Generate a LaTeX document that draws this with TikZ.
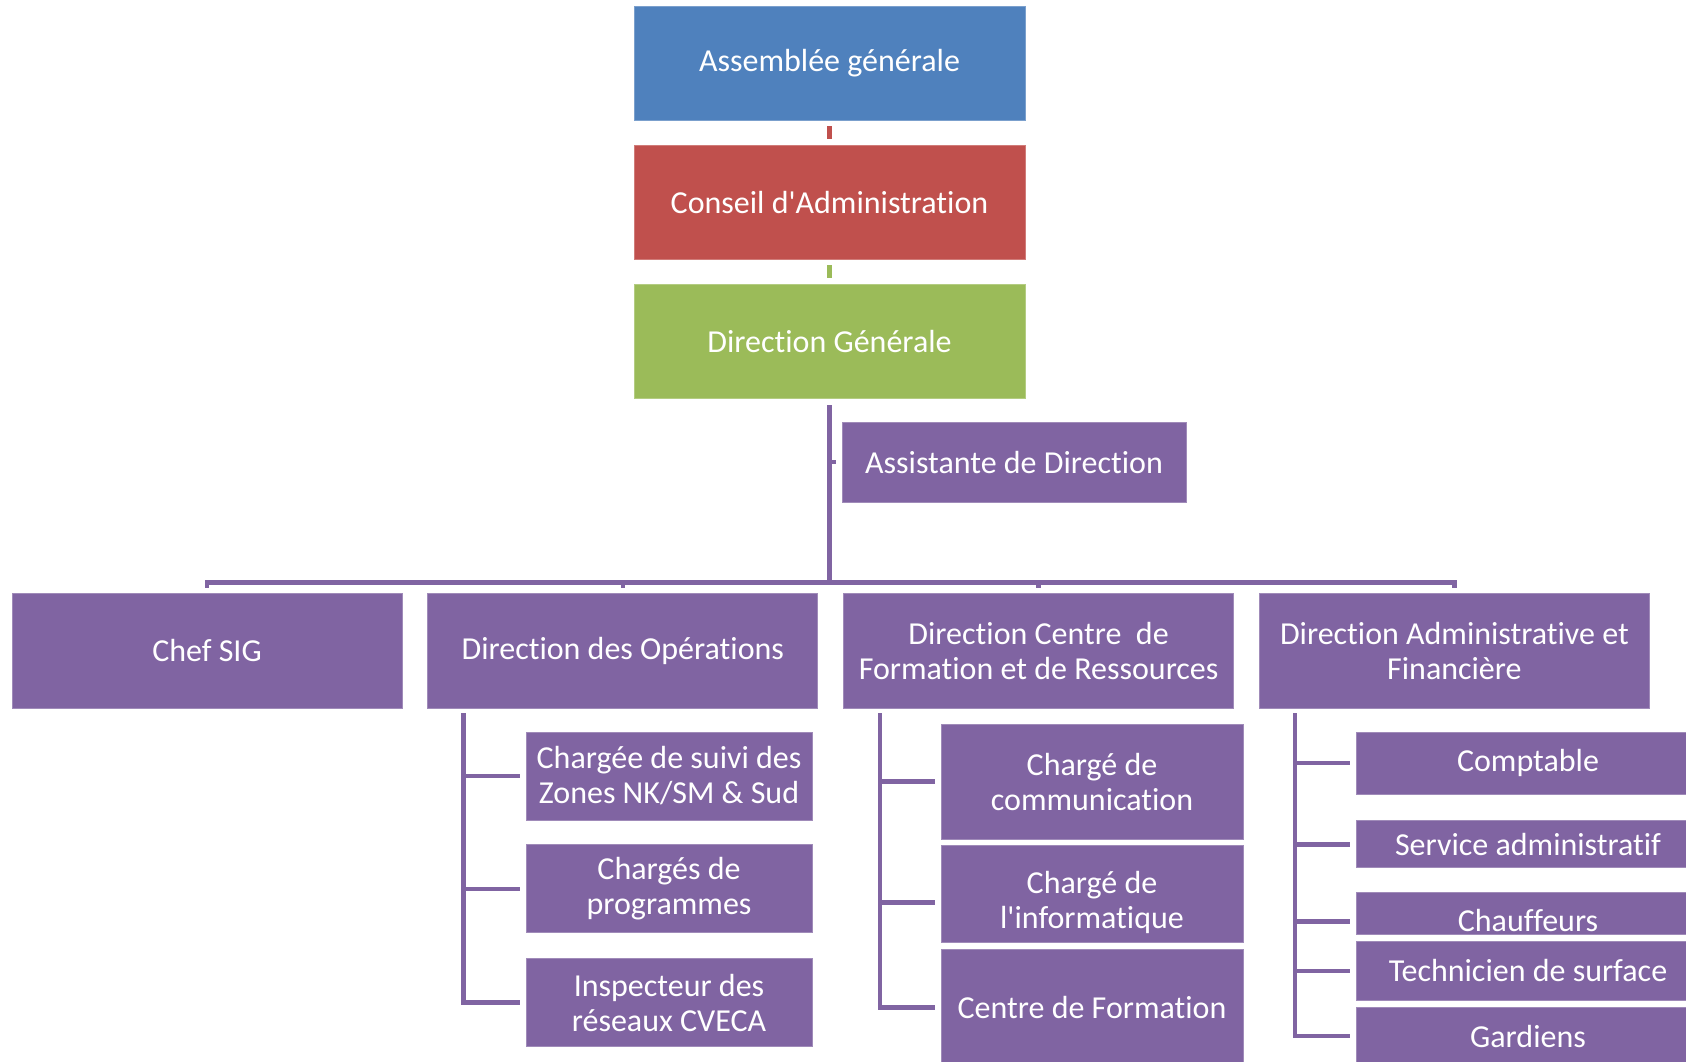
\documentclass[tikz,border=0pt]{standalone}
\usepackage{fontspec}
\setmainfont{Carlito}[Ligatures={NoCommon}]
\usetikzlibrary{positioning}
\definecolor{agblue}{HTML}{4F81BD}
\definecolor{cared}{HTML}{C0504D}
\definecolor{dggreen}{HTML}{9BBB59}
\definecolor{orgpurple}{HTML}{8064A2}
\newcommand{\lowerby}[2]{\raisebox{#1}{\vphantom{#2}}#2}
\tikzset{
  box/.style={fill=#1, draw=#1!75!white, line width=0.8pt, text=white,
    align=center, inner sep=0pt, font=\fontsize{32pt}{35pt}\selectfont},
  box/.default=orgpurple,
  top/.style={box=#1, minimum width=391pt, minimum height=114pt},
  unit/.style={box, minimum width=390pt, minimum height=115pt},
  conn/.style={draw=orgpurple, line width=4.5pt},
}
\begin{document}
\begin{tikzpicture}[x=1pt,y=-1pt]
        \useasboundingbox (0,0) rectangle (1686,1061);
        \clip (0,0) rectangle (1686,1061);
        %% top of the chart
        \node[top=agblue] (ag) at (829.5,63) {Assemblée générale};
        \node[top=cared, below=25pt of ag] (ca) {Conseil d\textquotesingle Administration};
        \node[top=dggreen, below=24pt of ca] (dg) {Direction Générale};
        \node[box, minimum width=344pt, minimum height=80pt] (asst) at (1014,462) {Assistante de Direction};
        %% directions
        \node[unit] (sig) at (207,650.5) {Chef SIG};
        \node[unit, right=25pt of sig] (dop) {Direction des Opérations};
        \node[unit, right=25pt of dop] (dcfr) {Direction Centre\ \ de\\Formation et de Ressources};
        \node[unit, right=25pt of dcfr] (daf) {Direction Administrative et\\Financière};
        %% operations
        \node[box, minimum width=286pt, minimum height=88pt] (dopa) at (669,776) {Chargée de suivi des\\Zones NK/SM \& Sud};
        \node[box, minimum width=286pt, minimum height=88pt, below=24pt of dopa] (dopb) {Chargés de\\programmes};
        \node[box, minimum width=286pt, minimum height=88pt, below=25pt of dopb] (dopc) {Inspecteur des\\réseaux CVECA};
        %% centre de formation
        \node[box, minimum width=302pt, minimum height=115pt] (dcfra) at (1092,781.5) {Chargé de\\communication};
        \node[box, minimum width=302pt, minimum height=97pt, below=6pt of dcfra] (dcfrb) {\lowerby{16pt}{Chargé de}\\l\textquotesingle informatique};
        \node[box, minimum width=302pt, minimum height=116pt, below=6pt of dcfrb] (dcfrc) {Centre de Formation};
        %% administration et finances
        \node[box, minimum width=344pt, minimum height=62pt] (dafa) at (1528,763) {Comptable};
        \node[box, minimum width=344pt, minimum height=47pt, below=26pt of dafa] (dafb) {Service administratif};
        \node[box, minimum width=344pt, minimum height=42pt, below=24pt of dafb] (dafc) {\lowerby{14pt}{Chauffeurs}};
        \node[box, minimum width=344pt, minimum height=59pt, below=6pt of dafc] (dafd) {Technicien de surface};
        \node[box, minimum width=344pt, minimum height=58pt, below=6pt of dafd] (dafe) {Gardiens};
        %% links
        \draw[conn, draw=cared, shorten <=6pt, shorten >=6pt] (ag.south) -- (ca.north);
        \draw[conn, draw=dggreen, shorten <=5pt, shorten >=6pt] (ca.south) -- (dg.north);
        \coordinate (hub) at ([yshift=10pt]dcfr.north -| dg.south);
        \draw[conn] ([yshift=-6pt]dg.south) -- (hub);
        \draw[conn] ([xshift=-6pt]asst.west) -- (asst.west -| hub);
        \foreach \u in {sig,dop,dcfr,daf}
          \draw[conn] ([yshift=5pt]\u.north) |- (hub);
        %% sub links
        \coordinate (dopv) at ([xshift=36pt,yshift=-5pt]dop.south west);
        \draw[conn] (dopv) |- ([xshift=-6pt]dopc.west);
        \foreach \c in {dopa,dopb}
          \draw[conn] (dopv |- \c.west) -- ([xshift=-6pt]\c.west);
        \coordinate (dcfrv) at ([xshift=37pt,yshift=-5pt]dcfr.south west);
        \draw[conn] (dcfrv) |- ([xshift=-6pt]dcfrc.west);
        \foreach \c/\dy in {dcfra/0,dcfrb/-8}{
          \coordinate (tip) at ([xshift=-6pt,yshift=\dy pt]\c.west);
          \draw[conn] (tip -| dcfrv) -- (tip);
        }
        \coordinate (dafv) at ([xshift=36pt,yshift=-5pt]daf.south west);
        \draw[conn] (dafv) |- ([xshift=-6pt]dafe.west);
        \foreach \c/\dy in {dafa/0,dafb/0,dafc/-8,dafd/0}{
          \coordinate (tip) at ([xshift=-6pt,yshift=\dy pt]\c.west);
          \draw[conn] (tip -| dafv) -- (tip);
        }
\end{tikzpicture}
\end{document}
